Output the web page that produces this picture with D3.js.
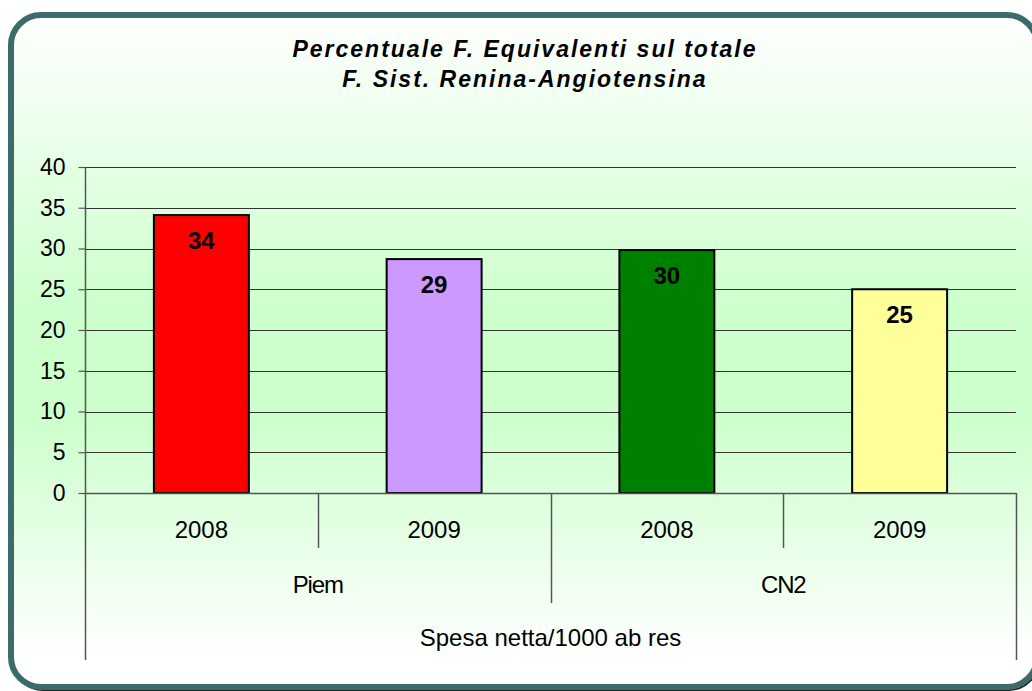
<!DOCTYPE html>
<html>
<head>
<meta charset="utf-8">
<script src="https://cdn.jsdelivr.net/npm/d3@7"></script>
<style>
html,body{margin:0;padding:0;background:#fff;overflow:hidden;}
svg{display:block;font-family:"Liberation Sans",Arial,sans-serif;}
</style>
</head>
<body>
<svg id="chart" width="1032" height="691"></svg>
<script>
const titleLines = ["Percentuale F. Equivalenti sul totale", "F. Sist. Renina-Angiotensina"];
const years = ["2008", "2009", "2008", "2009"];
const groups = ["Piem", "CN2"];
const outerLabel = "Spesa netta/1000 ab res";
const values = [34.1, 28.7, 29.8, 25.0];
const valueLabels = ["34", "29", "30", "25"];
const colors = ["#ff0000", "#cc99ff", "#008000", "#ffff99"];
const yTicks = [0, 5, 10, 15, 20, 25, 30, 35, 40];

const svg = d3.select("#chart");
const defs = svg.append("defs");
const grad = defs.append("linearGradient").attr("id", "bg").attr("x1", 0).attr("y1", 0).attr("x2", 0).attr("y2", 1);
[[0, "#ffffff"], [0.45, "#ccffcc"], [0.6, "#ccffcc"], [0.95, "#ffffff"], [1, "#ffffff"]].forEach(s =>
  grad.append("stop").attr("offset", s[0]).attr("stop-color", s[1]));

// shadow + frame
svg.append("rect").attr("x", 13).attr("y", 18).attr("width", 1026).attr("height", 673)
  .attr("rx", 30).attr("fill", "#222");
svg.append("rect").attr("x", 11).attr("y", 15).attr("width", 1026).attr("height", 672)
  .attr("rx", 30).attr("fill", "url(#bg)").attr("stroke", "#3b6b6b").attr("stroke-width", 6);

const plot = {left: 85, right: 1016, top: 167, bottom: 493};
const idx = d3.range(values.length);
const x = d3.scaleBand().domain(idx).range([plot.left, plot.right]).padding(0);
const y = d3.scaleLinear().domain([0, 40]).range([plot.bottom, plot.top]);
const barW = x.bandwidth() * 0.408;
const fontSize = 24;

// gridlines
svg.append("g").selectAll("line").data(yTicks.filter(d => d > 0)).join("line")
  .attr("x1", plot.left).attr("x2", plot.right)
  .attr("y1", d => Math.round(y(d)) + 0.5).attr("y2", d => Math.round(y(d)) + 0.5)
  .attr("stroke", "#333").attr("stroke-width", 1.2);

// y axis
const yAxis = svg.append("g").attr("transform", `translate(${plot.left + 0.5},0)`)
  .call(d3.axisLeft(y).tickValues(yTicks).tickSize(7).tickPadding(13));
yAxis.select(".domain").remove();
yAxis.selectAll(".tick line").attr("stroke", "#555").attr("stroke-width", 1.2);
yAxis.selectAll(".tick text").attr("font-size", 23).attr("fill", "#000")
  .attr("font-family", "Liberation Sans, Arial, sans-serif");

// bars
svg.append("g").selectAll("rect").data(idx).join("rect")
  .attr("x", i => x(i) + (x.bandwidth() - barW) / 2)
  .attr("y", i => y(values[i]))
  .attr("width", barW)
  .attr("height", i => y(0) - y(values[i]))
  .attr("fill", i => colors[i]).attr("stroke", "#000").attr("stroke-width", 2);

// value labels
svg.append("g").selectAll("text").data(idx).join("text")
  .attr("x", i => x(i) + x.bandwidth() / 2)
  .attr("y", i => y(values[i]) + 34)
  .attr("text-anchor", "middle").attr("font-size", 24).attr("font-weight", "bold")
  .text(i => valueLabels[i]);

// axis lines
const axisColor = "#555";
svg.append("line").attr("x1", plot.left + 0.5).attr("x2", plot.left + 0.5)
  .attr("y1", plot.top).attr("y2", 660).attr("stroke", axisColor).attr("stroke-width", 1.5);
svg.append("line").attr("x1", plot.left).attr("x2", plot.right)
  .attr("y1", plot.bottom + 0.5).attr("y2", plot.bottom + 0.5).attr("stroke", axisColor).attr("stroke-width", 1.5);

// category separators
const sepData = [
  {x: x(1), y2: 548},
  {x: x(2), y2: 603},
  {x: x(3), y2: 548},
  {x: plot.right, y2: 660}
];
svg.append("g").selectAll("line").data(sepData).join("line")
  .attr("x1", d => Math.round(d.x) + 0.5).attr("x2", d => Math.round(d.x) + 0.5)
  .attr("y1", plot.bottom).attr("y2", d => d.y2)
  .attr("stroke", axisColor).attr("stroke-width", 1.5);

// year labels
svg.append("g").selectAll("text").data(idx).join("text")
  .attr("x", i => x(i) + x.bandwidth() / 2).attr("y", 538)
  .attr("text-anchor", "middle").attr("font-size", fontSize).text(i => years[i]);

// group labels
svg.append("g").selectAll("text").data(groups).join("text")
  .attr("x", (d, g) => (x(g * 2) + x(g * 2 + 1) + x.bandwidth()) / 2).attr("y", 593)
  .attr("text-anchor", "middle").attr("font-size", fontSize).attr("letter-spacing", -1.2).text(d => d);

svg.append("text").attr("x", (plot.left + plot.right) / 2).attr("y", 646)
  .attr("text-anchor", "middle").attr("font-size", fontSize).text(outerLabel);

// title
svg.append("g").selectAll("text").data(titleLines).join("text")
  .attr("x", 525).attr("y", (d, i) => 57 + i * 30)
  .attr("text-anchor", "middle").attr("font-size", 23).attr("font-weight", "bold")
  .attr("font-style", "italic").attr("letter-spacing", 2).text(d => d);
</script>
</body>
</html>
